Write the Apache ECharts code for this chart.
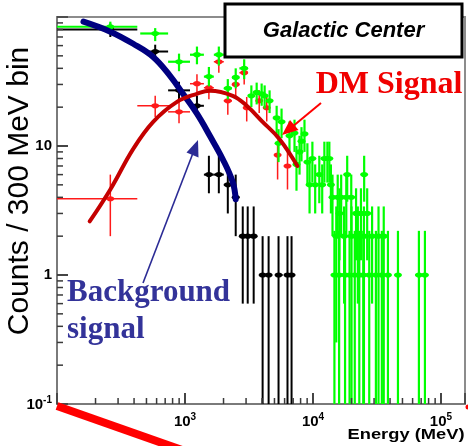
<!DOCTYPE html>
<html>
<head>
<meta charset="utf-8">
<script src="https://cdn.jsdelivr.net/npm/echarts@6/dist/echarts.min.js"></script>
<style>
  html, body { margin: 0; padding: 0; background: #fff; }
  #chart { width: 468px; height: 446px; }
</style>
</head>
<body>
<div id="chart"></div>
<script>
// 数据点: [E, counts, Elo, Ehi, countsLo, countsHi]
const greenPts = [
    [261, 84, 100, 424, 77, 92],
    [585, 74.5, 447, 738, 65, 82],
    [898, 45, 738, 1094, 38, 52],
    [1240, 51, 1094, 1405, 43, 59],
    [1537, 34.5, 1405, 1680, 29, 41],
    [1838, 51, 1680, 2010, 42, 59],
    [2160, 28, 2010, 2330, 23, 33],
    [2490, 34, 2330, 2660, 28, 40],
    [2900, 40, 2660, 3100, 33, 47],
    [3300, 24.5, 3100, 3470, 20, 29.5],
    [3630, 26, 3470, 3800, 21, 31],
    [3970, 25.4, 3800, 4080, 20.5, 30.5],
    [4190, 24.5, 4080, 4380, 19.5, 29.5],
    [4580, 22.4, 4380, 4800, 18, 27],
    [5200, 16.5, 4950, 5300, 12.5, 20.5],
    [5380, 10.5, 5300, 5500, 7.5, 13.5],
    [5680, 15.4, 5500, 5900, 11.5, 19.5],
    [6550, 12, 6300, 6800, 8.5, 15.5],
    [7170, 12.6, 6900, 7450, 9, 16],
    [7430, 7.2, 7200, 7700, 4.5, 10],
    [7850, 9, 7600, 8100, 6, 12],
    [8130, 10.9, 7900, 8400, 7.6, 14],
    [8580, 12.4, 8300, 8850, 9, 16],
    [9040, 7.5, 8800, 9300, 5, 10.5],
    [9400, 5, 9150, 9650, 3, 7.5],
    [9890, 8, 9600, 10200, 5.2, 10.8],
    [10400, 5, 10100, 10700, 3, 7.2],
    [11200, 6, 10800, 11600, 3.6, 8.4],
    [11800, 5, 11500, 12100, 3, 7.2],
    [12270, 8, 11900, 12700, 5.2, 10.8],
    [12950, 8, 12600, 13300, 5.2, 10.8],
    [13420, 8, 13100, 13800, 5.2, 10.8],
    [13800, 5, 13400, 14200, 3, 7.2],
    [14200, 4, 13800, 14600, 2, 6],
    [15600, 4, 15100, 16100, 2, 6],
    [16600, 4, 16100, 17100, 2, 6],
    [18200, 4, 17700, 18700, 2, 6],
    [19900, 4, 19300, 20500, 2, 6],
    [18500, 6, 18000, 19000, 3.7, 8.4],
    [25100, 6, 24400, 25800, 3.7, 8.4],
    [16100, 3, 15600, 16600, 1.3, 4.7],
    [21700, 3, 21100, 22300, 1.3, 4.7],
    [23700, 3, 23000, 24400, 1.3, 4.7],
    [26500, 3, 25800, 27300, 1.3, 4.7],
    [15200, 2, 14400, 16300, 0.3, 3.4],
    [17500, 2, 16300, 18800, 0.6, 3.4],
    [20000, 2, 18800, 21200, 0.1, 3.4],
    [22400, 2, 21200, 23600, 0.6, 3.4],
    [25000, 2, 23600, 26400, 0.1, 3.4],
    [28950, 2, 26400, 30300, 0.6, 3.4],
    [32500, 2, 30300, 34000, 0.1, 3.4],
    [35700, 2, 34000, 37500, 0.1, 3.4],
    [14700, 1, 14200, 15200, 0.1, 2.2],
    [16000, 1, 15200, 16800, 0.1, 2.2],
    [17800, 1, 16800, 18600, 0.1, 2.2],
    [19300, 1, 18600, 20300, 0.1, 2.2],
    [21200, 1, 20300, 22000, 0.1, 2.2],
    [23000, 1, 22000, 24000, 0.1, 2.2],
    [24700, 1, 24000, 25500, 0.1, 2.2],
    [27500, 1, 25500, 29000, 0.1, 2.2],
    [31000, 1, 29000, 32500, 0.1, 2.2],
    [34500, 1, 32500, 36500, 0.1, 2.2],
    [38500, 1, 36500, 40400, 0.1, 2.2],
    [46100, 1, 44000, 48000, 0.1, 2.2],
    [67200, 1, 64500, 69900, 0.1, 2.2],
    [74900, 1, 72000, 77800, 0.1, 2.2]
];

const blackPts = [
    [261, 80, 100, 424, 70, 89],
    [585, 54, 506, 738, 47, 61],
    [898, 27, 738, 1094, 23, 31.5],
    [1240, 20.5, 1094, 1405, 16.8, 24.5],
    [1537, 6, 1405, 1680, 4.3, 8.4],
    [1838, 6, 1680, 2010, 4.3, 8.4],
    [2160, 5, 2010, 2330, 3, 7],
    [2490, 4, 2330, 2660, 2, 6],
    [2826, 2, 2700, 2950, 0.6, 3.4],
    [3090, 2, 2950, 3250, 0.6, 3.4],
    [3440, 2, 3250, 3630, 0.6, 3.4],
    [4040, 1, 3900, 4190, 0.1, 2],
    [4500, 1, 4300, 4750, 0.1, 2],
    [5380, 1, 5100, 5780, 0.1, 2],
    [6320, 1, 6000, 6600, 0.1, 2],
    [6800, 1, 6600, 7170, 0.1, 2]
];

const redPts = [
    [261, 3.9, 100, 424, 2.0, 6.0],
    [585, 20.5, 424, 765, 16.8, 24.5],
    [898, 18.4, 738, 1094, 15, 22.5],
    [1240, 30.4, 1094, 1405, 25, 36],
    [1537, 28.3, 1405, 1680, 23, 34],
    [1838, 45, 1680, 2010, 37, 53],
    [2160, 22.4, 2010, 2330, 17.5, 27],
    [2490, 30, 2330, 2660, 24, 36],
    [2900, 37, 2660, 3100, 30, 44],
    [3035, 19.8, 2950, 3120, 15.5, 24],
    [3800, 22.4, 3650, 3950, 18, 27],
    [4350, 19.8, 4200, 4500, 15.5, 24],
    [5290, 8.5, 5150, 5450, 5.5, 11],
    [6320, 7, 6150, 6500, 4.6, 9.5]
];

// 曲线
const bgCurve = [
    [161, 92], [261, 77], [394, 62], [564, 49], [764, 35], [964, 25.4],
    [1240, 17.8], [1563, 12], [1972, 7.9], [2360, 5.25], [2490, 3.87]
];
const dmCurve = [
    [180, 2.6], [261, 4.6], [394, 9.5], [564, 15.4], [866, 22], [1240, 25.4],
    [1563, 26.8], [2360, 24.5], [3035, 20.5], [4040, 15.4], [5480, 11.3], [7560, 7]
];

// 刻度
const xMajorTicks = [1000, 10000, 100000];
const xMinorTicks = [
    200, 300, 400, 500, 600, 700, 800, 900,
    2000, 3000, 4000, 5000, 6000, 7000, 8000, 9000,
    20000, 30000, 40000, 50000, 60000, 70000, 80000, 90000
];
const yMajorTicks = [1, 10];
const yMinorTicks = [
    0.2, 0.3, 0.4, 0.5, 0.6, 0.7, 0.8, 0.9,
    2, 3, 4, 5, 6, 7, 8, 9,
    20, 30, 40, 50, 60, 70, 80, 90
];

const X_MIN = 100, X_MAX = 154000, Y_MIN = 0.1, Y_MAX = 100;

const chart = echarts.init(document.getElementById('chart'));

function errorBars(color, lw, rx, ry) {
    return function (params, api) {
        const p = api.coord([api.value(0), api.value(1)]);
        const l = api.coord([api.value(2), api.value(1)]);
        const r = api.coord([api.value(3), api.value(1)]);
        const b = api.coord([api.value(0), api.value(4)]);
        const t = api.coord([api.value(0), api.value(5)]);
        return {
            type: 'group',
            children: [
                { type: 'line', shape: { x1: l[0], y1: l[1], x2: r[0], y2: r[1] }, style: { stroke: color, lineWidth: lw } },
                { type: 'line', shape: { x1: b[0], y1: b[1], x2: t[0], y2: t[1] }, style: { stroke: color, lineWidth: lw } },
                { type: 'ellipse', shape: { cx: p[0], cy: p[1], rx: rx, ry: ry }, style: { fill: color } }
            ]
        };
    };
}

function pointSeries(data, color, lw) {
    return {
        type: 'custom',
        data: data,
        encode: { x: [0, 2, 3], y: [1, 4, 5] },
        renderItem: errorBars(color, lw, 4, 2.6),
        z: 2,
        silent: true
    };
}

const sup = (base, exp) => exp === null ? `{b|${base}}` : `{b|${base}}{s|${exp}}`;
const labelRich = {
    b: { fontSize: 15, fontWeight: 'bold', fontFamily: 'Liberation Sans', color: '#000', verticalAlign: 'bottom' },
    s: { fontSize: 10, fontWeight: 'bold', fontFamily: 'Liberation Sans', color: '#000', verticalAlign: 'bottom', padding: [0, 0, 7, 0] }
};

function decade(v) {
    const e = Math.round(Math.log10(v));
    return Math.abs(Math.log10(v) - e) < 0.01 ? e : null;
}

const annotations = [
    {
        type: 'text', x: 20, y: 191, rotation: Math.PI / 2, z: 10,
        style: { text: 'Counts / 300 MeV bin', font: '30px "Liberation Sans", Arial', fill: '#000', align: 'center', verticalAlign: 'middle' }
    },
    {
        type: 'text', x: 406, y: 435, scaleX: 1.22, z: 10,
        style: { text: 'Energy (MeV)', font: 'bold 15px "Liberation Sans", Arial', fill: '#000', align: 'center', verticalAlign: 'middle' }
    },
    {
        type: 'rect', z: 10,
        shape: { x: 225, y: 4, width: 237, height: 53 },
        style: { fill: '#fff', stroke: '#000', lineWidth: 3 }
    },
    {
        type: 'text', x: 343.5, y: 31, z: 11,
        style: { text: 'Galactic Center', font: 'italic bold 22px "Liberation Sans", Arial', fill: '#000', align: 'center', verticalAlign: 'middle' }
    },
    {
        type: 'text', x: 389, y: 85, z: 10,
        style: { text: 'DM Signal', font: 'bold 32px "Liberation Serif", "Times New Roman", serif', fill: '#f00000', align: 'center', verticalAlign: 'middle' }
    },
    {
        type: 'text', x: 67, y: 293, z: 10,
        style: { text: 'Background', font: 'bold 31px "Liberation Serif", "Times New Roman", serif', fill: '#333399', align: 'left', verticalAlign: 'middle' }
    },
    {
        type: 'text', x: 67, y: 330, z: 10,
        style: { text: 'signal', font: 'bold 31px "Liberation Serif", "Times New Roman", serif', fill: '#333399', align: 'left', verticalAlign: 'middle' }
    },
    // 箭头
    {
        type: 'line', z: 10,
        shape: { x1: 143, y1: 283, x2: 193, y2: 153 },
        style: { stroke: '#2b2b95', lineWidth: 1.6 }
    },
    {
        type: 'polygon', z: 10,
        shape: { points: [[198, 140], [186.5, 152.5], [198.5, 157.5]] },
        style: { fill: '#2b2b95' }
    },
    {
        type: 'line', z: 10,
        shape: { x1: 321, y1: 103, x2: 292, y2: 127 },
        style: { stroke: '#ff0000', lineWidth: 2 }
    },
    {
        type: 'polygon', z: 10,
        shape: { points: [[282, 135], [290, 120], [298.5, 130]] },
        style: { fill: '#ff0000' }
    },
    // 左下角的红色粗线
    {
        type: 'line', z: 10,
        shape: { x1: 57, y1: 406, x2: 182, y2: 450 },
        style: { stroke: '#ff0000', lineWidth: 8 }
    },
    {
        type: 'circle', z: 10,
        shape: { cx: 468, cy: 407, r: 2.5 },
        style: { fill: '#ff0000' }
    }
];

chart.setOption({
    animation: false,
    grid: {
        left: 57, top: 17, right: 1, bottom: 42,
        show: true, borderColor: '#8c8c8c', borderWidth: 2
    },
    xAxis: {
        type: 'log',
        min: X_MIN,
        max: X_MAX,
        axisLine: { show: true, lineStyle: { color: '#7a7a7a', width: 2 } },
        axisTick: { show: true, inside: true, length: 11, lineStyle: { color: '#3a3a3a', width: 1.5 } },
        axisLabel: {
            margin: 8,
            rich: labelRich,
            formatter: v => {
                const e = decade(v);
                if (e === null || e < 3) return '';
                return sup('10', String(e));
            }
        },
        splitLine: { show: false }
    },
    yAxis: {
        type: 'log',
        min: Y_MIN,
        max: Y_MAX,
        axisLine: { show: true, lineStyle: { color: '#7a7a7a', width: 2 } },
        axisTick: { show: true, inside: true, length: 11, lineStyle: { color: '#3a3a3a', width: 1.5 } },
        axisLabel: {
            margin: 5,
            rich: labelRich,
            formatter: v => {
                const e = decade(v);
                if (e === -1) return sup('10', '-1');
                if (e === 0) return sup('1', null);
                if (e === 1) return sup('10', null);
                return '';
            }
        },
        splitLine: { show: false }
    },
    series: [
        pointSeries(redPts, '#ff1a1a', 1.5),
        pointSeries(blackPts, '#000000', 2),
        pointSeries(greenPts, '#00ff00', 2.2),
        {
            type: 'line',
            data: bgCurve,
            smooth: 0.4,
            symbol: 'none',
            z: 4,
            lineStyle: { color: '#000080', width: 6, cap: 'round' }
        },
        {
            type: 'line',
            data: dmCurve,
            smooth: 0.4,
            symbol: 'none',
            z: 4,
            lineStyle: { color: '#c40000', width: 4, cap: 'round' }
        }
    ]
});

// 刻度线: 用坐标轴换算位置
function tickLine(p, dx, dy) {
    return {
        type: 'line', z: 100,
        shape: { x1: p[0], y1: p[1], x2: p[0] + dx, y2: p[1] + dy },
        style: { stroke: '#3a3a3a', lineWidth: 1.5 }
    };
}
const toPx = v => chart.convertToPixel({ gridIndex: 0 }, v);
const tickMarks = [].concat(
    xMajorTicks.map(v => tickLine(toPx([v, Y_MIN]), 0, -11)),
    xMinorTicks.map(v => tickLine(toPx([v, Y_MIN]), 0, -6)),
    yMajorTicks.map(v => tickLine(toPx([X_MIN, v]), 11, 0)),
    yMinorTicks.map(v => tickLine(toPx([X_MIN, v]), 6, 0))
);
chart.setOption({ graphic: annotations.concat(tickMarks) });

window.addEventListener('resize', function () {
    chart.resize();
});
</script>
</body>
</html>
